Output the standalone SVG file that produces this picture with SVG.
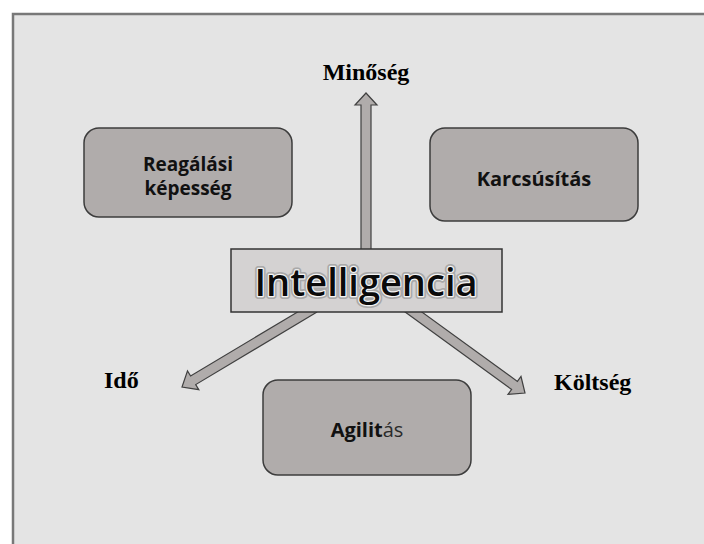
<svg xmlns="http://www.w3.org/2000/svg" width="704" height="544" viewBox="0 0 704 544">
  <style>
    .frame { fill: #e4e4e4; stroke: #787878; stroke-width: 2.5; }
    .box { fill: #b0acab; stroke: #3c3c3c; stroke-width: 1.5; }
    .core { fill: #d4d2d2; stroke: #333333; stroke-width: 1.5; }
    .arrow { fill: #b0acab; stroke: #404040; stroke-width: 1.2; stroke-linejoin: miter; }
    .box-text { font-family: "Open Sans", "Noto Sans", sans-serif; font-weight: 700; font-size: 20px; fill: #111; text-anchor: middle; }
    .box-text.small { font-size: 19px; }
    .axis { font-family: "Liberation Serif", "Times New Roman", serif; font-weight: 700; font-size: 24px; fill: #000; }
    .core-halo { font-family: "Open Sans", "Noto Sans", sans-serif; font-weight: 600; font-size: 38px; text-anchor: middle; fill: none; stroke: #8e8e8e; stroke-width: 6; stroke-linejoin: round; opacity: 0.6; }
    .core-text { font-family: "Open Sans", "Noto Sans", sans-serif; font-weight: 600; font-size: 38px; text-anchor: middle; fill: #0a0a0a; stroke: #f4f4f4; stroke-width: 2.4; stroke-linejoin: round; paint-order: stroke; }
  </style>

  <rect width="704" height="544" fill="#ffffff"/>
  <rect class="frame" x="13" y="14" width="700" height="540"/>

  <!-- axis arrows leaving the central box -->
  <g id="connectors">
    <polygon class="arrow" points="361,250 361,105 355,105 366,93 377,105 371,105 371,250"/>
    <polygon class="arrow" points="316.6,312.3 195.7,384.6 198.8,389.7 182,387 187.5,370.9 190.6,376 311.4,303.7"/>
    <polygon class="arrow" points="405.1,312 511.6,389.5 508,394.3 525,393 521,376.5 517.4,381.4 410.9,304"/>
  </g>

  <g id="intelligencia">
    <rect class="core" x="231" y="249" width="271" height="63"/>
    <text class="core-halo" x="366" y="296">Intelligencia</text>
    <text class="core-text" x="366" y="296">Intelligencia</text>
  </g>

  <g id="reagalasi">
    <rect class="box" x="84" y="128" width="208" height="89" rx="15"/>
    <text class="box-text small" x="188" y="171">Reagálási</text>
    <text class="box-text small" x="188" y="195">képesség</text>
  </g>

  <g id="karcsusitas">
    <rect class="box" x="430" y="128" width="208" height="93" rx="15"/>
    <text class="box-text" x="534" y="186">Karcsúsítás</text>
  </g>

  <g id="agilitas">
    <rect class="box" x="263" y="380" width="208" height="95" rx="15"/>
    <text class="box-text" x="367" y="437">Agilit<tspan font-weight="400" fill="#2a2a2a">ás</tspan></text>
  </g>

  <g id="labels">
    <text class="axis" x="366" y="80" text-anchor="middle">Minőség</text>
    <text class="axis" x="104" y="388">Idő</text>
    <text class="axis" x="554" y="390">Költség</text>
  </g>
</svg>
